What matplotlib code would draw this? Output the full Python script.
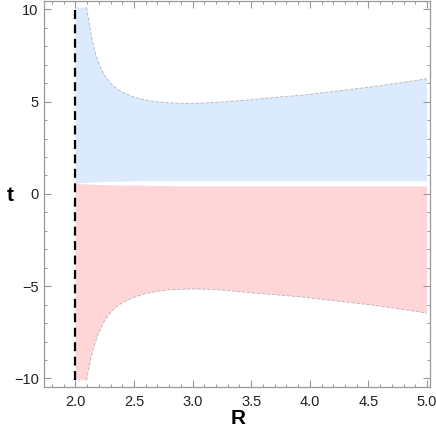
import matplotlib.pyplot as plt
from matplotlib.ticker import MultipleLocator

plt.rcParams['font.family'] = ['Liberation Sans', 'DejaVu Sans']

# upper boundary of the blue region (t > 0)
R_up = [2.0, 2.096, 2.11, 2.13, 2.15, 2.175, 2.2, 2.25, 2.3, 2.35, 2.4, 2.5,
        2.6, 2.7, 2.8, 2.92, 3.05, 3.2, 3.5, 3.77, 3.92, 4.2, 4.5, 4.75, 5.0]
t_up = [10.1, 10.1, 9.55, 8.8, 8.15, 7.55, 7.05, 6.4, 6.0, 5.72, 5.52, 5.24,
        5.08, 4.99, 4.94, 4.9, 4.91, 4.96, 5.1, 5.27, 5.34, 5.55, 5.78, 6.0, 6.24]
# lower edge of the blue region
R_blue_lo = [2.0, 2.2, 2.6, 3.0, 5.0]
t_blue_lo = [0.55, 0.64, 0.69, 0.69, 0.69]

# lower boundary of the red region (t < 0)
R_dn = [2.0, 2.096, 2.11, 2.13, 2.15, 2.175, 2.2, 2.25, 2.3, 2.35, 2.4, 2.5,
        2.6, 2.7, 2.8, 3.0, 3.2, 3.5, 3.75, 3.92, 4.2, 4.5, 4.75, 5.0]
t_dn = [-10.1, -10.1, -9.6, -8.95, -8.45, -7.95, -7.5, -6.85, -6.42, -6.12,
        -5.9, -5.6, -5.4, -5.28, -5.2, -5.15, -5.18, -5.36, -5.49, -5.58,
        -5.78, -6.0, -6.22, -6.46]
# upper edge of the red region
R_red_hi = [2.0, 2.2, 3.0, 5.0]
t_red_hi = [0.55, 0.48, 0.40, 0.40]

fig = plt.figure(figsize=(4.36, 4.36), dpi=100)
ax = fig.add_axes([0.1016, 0.113, 0.8846, 0.885])

blue = '#dbeafd'
red = '#ffd6d8'

# blue region: polygon from lower edge to upper curve
ax.fill(R_blue_lo + R_up[::-1], t_blue_lo + t_up[::-1], color=blue, lw=0)
ax.fill(R_red_hi + R_dn[::-1], t_red_hi + t_dn[::-1], color=red, lw=0)

# faint boundary lines
ax.plot(R_up[1:], t_up[1:], color='#9a9aa0', lw=0.6, ls=(0, (4, 2)), alpha=0.7)
ax.plot(R_dn[1:], t_dn[1:], color='#9a9aa0', lw=0.6, ls=(0, (4, 2)), alpha=0.7)

# dashed line at R = 2
ax.plot([2.0, 2.0], [-10.1, 10.1], color='black', lw=1.6, ls=(0, (4, 2.5)))

ax.set_xlim(1.735, 5.025)
ax.set_ylim(-10.45, 10.46)

ax.xaxis.set_major_locator(MultipleLocator(0.5))
ax.xaxis.set_minor_locator(MultipleLocator(0.1))
ax.yaxis.set_major_locator(MultipleLocator(5))
ax.yaxis.set_minor_locator(MultipleLocator(1))
ax.set_xticks([2.0, 2.5, 3.0, 3.5, 4.0, 4.5, 5.0])
ax.set_xticklabels(['2.0', '2.5', '3.0', '3.5', '4.0', '4.5', '5.0'])

for s in ax.spines.values():
    s.set_color('#999999')
    s.set_linewidth(0.9)

ax.tick_params(which='both', direction='in', top=True, right=True,
               color='#999999', labelsize=10.5, labelcolor='#222222')
ax.tick_params(which='major', length=5, width=0.8, pad=4)
ax.tick_params(axis='x', which='major', pad=6)
ax.tick_params(which='minor', length=2.5, width=0.7)

fig.text(10 / 436, 1 - 195 / 436, 't', fontsize=15, fontweight='bold',
         ha='center', va='center')
fig.text(238 / 436, 1 - 418 / 436, 'R', fontsize=15, fontweight='bold',
         ha='center', va='center')

fig.savefig('out.png', dpi=100)
